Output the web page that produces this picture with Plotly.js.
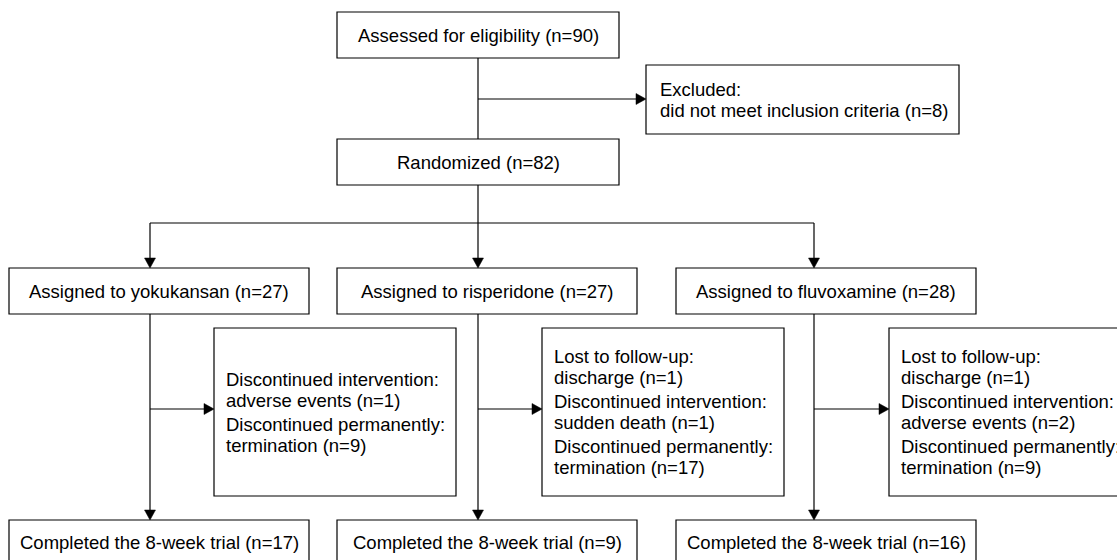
<!DOCTYPE html>
<html>
<head>
<meta charset="utf-8">
<script src="https://cdn.plot.ly/plotly-3.0.1.min.js"></script>
<style>html,body{margin:0;padding:0;background:#fff;}#chart{width:1117px;height:560px;}</style>
</head>
<body>
<div id="chart"></div>
<script>
// ---------- data ----------
const screenedLabel = "Assessed for eligibility";
const screenedN = 90;
const excludedHead = "Excluded:";
const excludedReason = "did not meet inclusion criteria";
const excludedN = 8;
const randomizedLabel = "Randomized";
const randomizedN = 82;
const arms = ["yokukansan", "risperidone", "fluvoxamine"];
const assignedN = [27, 27, 28];
const completedN = [17, 9, 16];
const completedLabel = "Completed the 8-week trial";
// drop-outs per arm: [heading, reason, n]
const lossHeads = [
  ["Discontinued intervention:", "Discontinued permanently:"],
  ["Lost to follow-up:", "Discontinued intervention:", "Discontinued permanently:"],
  ["Lost to follow-up:", "Discontinued intervention:", "Discontinued permanently:"]
];
const lossReasons = [
  ["adverse events", "termination"],
  ["discharge", "sudden death", "termination"],
  ["discharge", "adverse events", "termination"]
];
const lossN = [
  [1, 9],
  [1, 1, 17],
  [1, 2, 9]
];

// ---------- layout geometry (pixels) ----------
const FONT = {family: "Liberation Sans, Arial, sans-serif", size: 18.5, color: "#000"};
const LINE = {color: "#000", width: 1.2};
const topBox = {x0: 337, x1: 619, y0: 12, y1: 58};
const randBox = {x0: 337, x1: 619, y0: 139, y1: 185};
const exclBox = {x0: 646, x1: 959, y0: 65, y1: 134};
const mainX = 478, exclY = 99, branchY = 223;
const armX0 = [9, 337, 676], armW = 300;
const armLineX = [150, 478, 814];
const armY0 = 268, armY1 = 314;
const sideX0 = [214, 542, 889], sideW = 242, sideY0 = 328, sideY1 = 496, sideArrowY = 409;
const compY0 = 520, compY1 = 585;
const LH = 21, GAP = 24, PAD = 10, AH = 10, AW = 5.5;

const shapes = [];
const annotations = [];

function rect(b) {
  shapes.push({type: "rect", xref: "x", yref: "y", x0: b.x0, x1: b.x1, y0: b.y0, y1: b.y1,
    line: LINE, fillcolor: "rgba(0,0,0,0)"});
}
function seg(x0, y0, x1, y1) {
  shapes.push({type: "line", xref: "x", yref: "y", x0, y0, x1, y1, line: LINE});
}
function arrowDown(x, y0, y1) {
  seg(x, y0, x, y1 - AH);
  shapes.push({type: "path", xref: "x", yref: "y",
    path: `M ${x - AW} ${y1 - AH} L ${x + AW} ${y1 - AH} L ${x} ${y1} Z`,
    fillcolor: "#000", line: {color: "#000", width: 0.5}});
}
function arrowRight(y, x0, x1) {
  seg(x0, y, x1 - AH, y);
  shapes.push({type: "path", xref: "x", yref: "y",
    path: `M ${x1 - AH} ${y - AW} L ${x1 - AH} ${y + AW} L ${x1} ${y} Z`,
    fillcolor: "#000", line: {color: "#000", width: 0.5}});
}
function txt(x, y, s, anchor) {
  annotations.push({x, y, xref: "x", yref: "y", text: s, showarrow: false,
    xanchor: anchor, yanchor: "middle", font: FONT});
}

// top
rect(topBox);
txt((topBox.x0 + topBox.x1) / 2, (topBox.y0 + topBox.y1) / 2, `${screenedLabel} (n=${screenedN})`, "center");
seg(mainX, topBox.y1, mainX, randBox.y0);
arrowRight(exclY, mainX, exclBox.x0);
rect(exclBox);
const exCy = (exclBox.y0 + exclBox.y1) / 2;
txt(exclBox.x0 + 12, exCy - LH / 2, excludedHead, "left");
txt(exclBox.x0 + 12, exCy + LH / 2, `${excludedReason} (n=${excludedN})`, "left");
rect(randBox);
txt((randBox.x0 + randBox.x1) / 2, (randBox.y0 + randBox.y1) / 2, `${randomizedLabel} (n=${randomizedN})`, "center");
seg(mainX, randBox.y1, mainX, branchY);
seg(armLineX[0], branchY, armLineX[armLineX.length - 1], branchY);

arms.forEach((arm, i) => {
  const lx = armLineX[i];
  arrowDown(lx, branchY, armY0);
  rect({x0: armX0[i], x1: armX0[i] + armW, y0: armY0, y1: armY1});
  txt(armX0[i] + armW / 2, (armY0 + armY1) / 2, `Assigned to ${arm} (n=${assignedN[i]})`, "center");
  arrowDown(lx, armY1, compY0);
  arrowRight(sideArrowY, lx, sideX0[i]);
  rect({x0: sideX0[i], x1: sideX0[i] + sideW, y0: sideY0, y1: sideY1});
  // text lines
  const lines = [];
  lossHeads[i].forEach((h, k) => {
    lines.push(h);
    lines.push(`${lossReasons[i][k]} (n=${lossN[i][k]})`);
  });
  const offs = [];
  let o = 0;
  lines.forEach((l, k) => {
    if (k > 0) o += (k % 2 === 0) ? GAP : LH;
    offs.push(o);
  });
  const start = (sideY0 + sideY1) / 2 - o / 2;
  lines.forEach((l, k) => txt(sideX0[i] + PAD, start + offs[k], l, "left"));
  rect({x0: armX0[i], x1: armX0[i] + armW, y0: compY0, y1: compY1});
  txt(armX0[i] + armW / 2, compY0 + 22, `${completedLabel} (n=${completedN[i]})`, "center");
});

const layout = {
  width: 1117, height: 560,
  margin: {l: 0, r: 0, t: 0, b: 0},
  paper_bgcolor: "#fff", plot_bgcolor: "#fff",
  showlegend: false,
  xaxis: {range: [0, 1117], visible: false, fixedrange: true},
  yaxis: {range: [560, 0], visible: false, fixedrange: true},
  shapes, annotations
};
Plotly.newPlot("chart", [{x: [], y: [], type: "scatter", mode: "markers", hoverinfo: "skip"}], layout,
  {staticPlot: true, displayModeBar: false});
</script>
</body>
</html>
